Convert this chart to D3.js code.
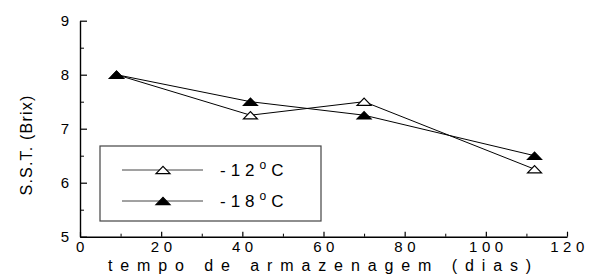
<!DOCTYPE html>
<html lang="pt">
<head>
<meta charset="utf-8">
<title>SST vs tempo</title>
<script src="https://d3js.org/d3.v7.min.js"></script>
<style>
  body { margin: 0; background: #fff; }
  text { font-family: "Liberation Sans", Arial, sans-serif; fill: #000; }
</style>
</head>
<body>
<div id="chart"></div>
<script>
const dias = [9, 42, 70, 112];
const sst12 = [8, 7.25, 7.5, 6.25];
const sst18 = [8, 7.5, 7.25, 6.5];
const xTicks = [0, 20, 40, 60, 80, 100, 120];
const yTicks = [5, 6, 7, 8, 9];
const series = [
  {name: "-12", values: sst12, fill: "#fff"},
  {name: "-18", values: sst18, fill: "#000"}
];

const width = 594, height = 276;
const margin = {top: 20.7, right: 27, bottom: 39.3, left: 80};

const x = d3.scaleLinear().domain([0, 120]).range([margin.left, width - margin.right]);
const y = d3.scaleLinear().domain([5, 9]).range([height - margin.bottom, margin.top]);

const svg = d3.select("#chart").append("svg")
    .attr("width", width)
    .attr("height", height);

const tri = "M-7,3.7L0,-3.7L7,3.7Z";

// minor ticks
svg.append("g")
    .attr("transform", `translate(0,${y(5)})`)
    .call(d3.axisBottom(x).tickValues([10, 30, 50, 70, 90, 110]).tickSize(-3).tickFormat(""))
    .call(g => g.select(".domain").remove());
svg.append("g")
    .attr("transform", `translate(${x(0)},0)`)
    .call(d3.axisLeft(y).tickValues([5.5, 6.5, 7.5, 8.5]).tickSize(-4).tickFormat(""))
    .call(g => g.select(".domain").remove());

// x axis
const xAxis = svg.append("g")
    .attr("transform", `translate(0,${y(5)})`)
    .call(d3.axisBottom(x).tickValues(xTicks).tickSize(-5).tickPadding(5).tickSizeOuter(0).tickFormat(d3.format("d")));
xAxis.selectAll("text")
    .attr("font-size", 15)
    .attr("letter-spacing", 4.5)
    .attr("dx", 2);
xAxis.select(".domain").attr("stroke-width", 1.4);
xAxis.selectAll(".tick line").attr("stroke-width", 1.2);

// y axis
const yAxis = svg.append("g")
    .attr("transform", `translate(${x(0)},0)`)
    .call(d3.axisLeft(y).tickValues(yTicks).tickSize(-7).tickPadding(11).tickSizeOuter(0).tickFormat(d3.format("d")));
yAxis.selectAll("text").attr("font-size", 15);
yAxis.select(".domain").attr("stroke-width", 1.4);
yAxis.selectAll(".tick line").attr("stroke-width", 1.2);
svg.selectAll(".domain, .tick line").attr("stroke", "#000");

// titles
svg.append("text")
    .attr("x", (x(0) + x(120)) / 2)
    .attr("y", 271)
    .attr("text-anchor", "middle")
    .attr("font-size", 16)
    .attr("letter-spacing", 7.9)
    .text("tempo de armazenagem (dias)");

svg.append("text")
    .attr("transform", `translate(32,${145}) rotate(-90)`)
    .attr("text-anchor", "middle")
    .attr("font-size", 16)
    .attr("letter-spacing", 1.2)
    .text("S.S.T. (Brix)");

// lines + markers
const line = d3.line().x((d, i) => x(dias[i])).y(d => y(d));
series.forEach(s => {
  svg.append("path")
      .attr("d", line(s.values))
      .attr("fill", "none")
      .attr("stroke", "#000")
      .attr("stroke-width", 1);
  svg.append("g").selectAll("path")
    .data(s.values)
    .join("path")
      .attr("d", tri)
      .attr("transform", (d, i) => `translate(${x(dias[i])},${y(d)})`)
      .attr("fill", s.fill)
      .attr("stroke", "#000")
      .attr("stroke-width", 1.2);
});

// legend
const lg = svg.append("g").attr("transform", "translate(100,146)");
lg.append("rect")
    .attr("width", 221)
    .attr("height", 75)
    .attr("fill", "#fff")
    .attr("stroke", "#444")
    .attr("stroke-width", 1.2);
const rows = lg.selectAll(".row")
  .data(series)
  .join("g")
    .attr("class", "row")
    .attr("transform", (d, i) => `translate(0,${24 + i * 31})`);
rows.append("line")
    .attr("x1", 22).attr("x2", 103)
    .attr("stroke", "#444")
    .attr("stroke-width", 1);
rows.append("path")
    .attr("d", tri)
    .attr("transform", "translate(63,0)")
    .attr("fill", d => d.fill)
    .attr("stroke", "#000")
    .attr("stroke-width", 1.2);
const lt = rows.append("text")
    .attr("x", 120)
    .attr("y", 6)
    .attr("font-size", 17)
    .attr("letter-spacing", 5);
lt.append("tspan").text(d => d.name);
lt.append("tspan").attr("dy", -7).attr("font-size", 12).text("o");
lt.append("tspan").attr("dy", 7).text("C");
</script>
</body>
</html>
